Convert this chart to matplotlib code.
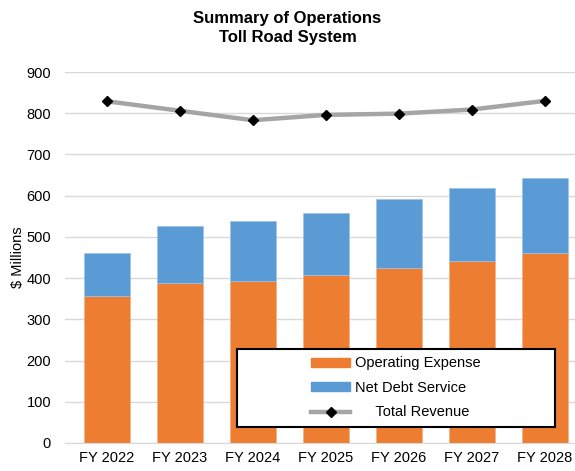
import matplotlib
matplotlib.use("Agg")
import matplotlib.pyplot as plt
from matplotlib.patches import Patch, Rectangle
from matplotlib.lines import Line2D
import numpy as np

plt.rcParams['font.family'] = ['Liberation Sans', 'DejaVu Sans']

# --- Datos ---
years = ["FY 2022", "FY 2023", "FY 2024", "FY 2025", "FY 2026", "FY 2027", "FY 2028"]
operating_expense = [357, 388, 393, 408, 424, 441, 460]
net_debt_service = [104, 138, 145, 151, 168, 177, 184]
total_revenue = [829, 806, 783, 796, 799, 809, 830]

ORANGE = "#ED7D31"
BLUE = "#5B9BD5"
GRAY = "#A5A5A5"

fig = plt.figure(figsize=(5.75, 4.71), dpi=100)
ax = fig.add_axes([65 / 575, 1 - 443 / 471, 510 / 575, (443 - 72) / 471])

x = np.arange(len(years))
ax.bar(x, operating_expense, width=0.63, color=ORANGE, edgecolor="#F4B183", linewidth=0.5, zorder=2)
ax.bar(x, net_debt_service, width=0.63, bottom=operating_expense, color=BLUE,
       edgecolor="#9DC3E6", linewidth=0.5, zorder=2)
ax.plot(x, total_revenue, color=GRAY, linewidth=3.2, marker="D", markersize=5.5,
        markerfacecolor="black", markeredgecolor="black", zorder=3)

ax.set_ylim(0, 900)
ax.set_xlim(-0.573, 6.41)
ax.set_yticks(range(0, 901, 100))
ax.set_xticks(x)
ax.set_xticklabels(years)
ax.tick_params(axis="both", length=0, labelsize=10.5, colors="black")
ax.tick_params(axis="y", pad=10)
ax.tick_params(axis="x", pad=6)
ax.grid(axis="y", color="#D9D9D9", linewidth=1, zorder=0)
ax.set_axisbelow(True)
for side in ["top", "right", "left"]:
    ax.spines[side].set_visible(False)
ax.spines["bottom"].set_color("#D9D9D9")

ax.set_ylabel("$ Millions", fontsize=10.5, labelpad=1)
fig.text(0.5, 1 - 28 / 471, "Summary of Operations\nToll Road System", ha="center", va="center",
         fontsize=12, fontweight="bold", linespacing=1.3)

# --- Leyenda con marco negro ---
box = Rectangle((237 / 575, 1 - 427 / 471), (555 - 237) / 575, (427 - 349) / 471,
                transform=fig.transFigure, facecolor="white", edgecolor="black",
                linewidth=1.5, zorder=5)
fig.patches.append(box)
handles = [
    Patch(facecolor=ORANGE, edgecolor=ORANGE),
    Patch(facecolor=BLUE, edgecolor=BLUE),
    Line2D([0], [0], color=GRAY, linewidth=3.2, marker="D", markersize=5.5,
           markerfacecolor="black", markeredgecolor="black"),
]
labels = ["Operating Expense", "Net Debt Service", "     Total Revenue"]
leg = fig.legend(handles, labels, loc="center",
                 bbox_to_anchor=((237 + 555) / 2 / 575, 1 - 388 / 471),
                 frameon=False, fontsize=10.5, handlelength=2.7, handleheight=0.55,
                 handletextpad=0.35, labelspacing=0.72)
leg.set_zorder(6)

fig.savefig("out.png", dpi=100)
